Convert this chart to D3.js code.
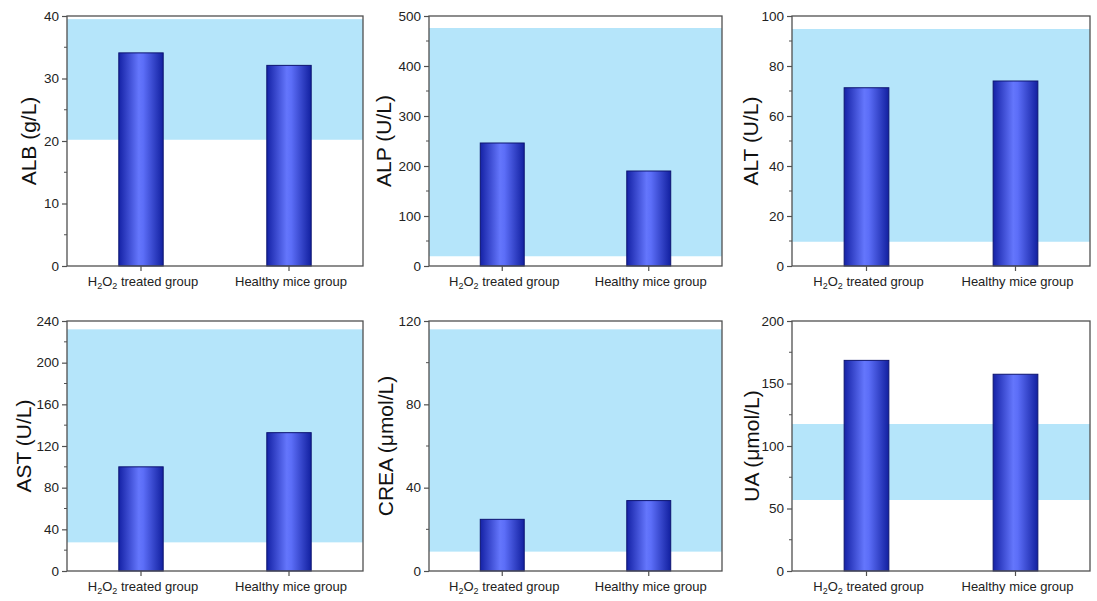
<!DOCTYPE html>
<html>
<head>
<meta charset="utf-8">
<script src="https://cdn.jsdelivr.net/npm/d3@7"></script>
<style>
  body { margin: 0; background: #fff; }
  svg { display: block; font-family: "Liberation Sans", Arial, sans-serif; }
</style>
</head>
<body>
<div id="chart"></div>
<script>
// data
const groups = ["H2O2 treated group", "Healthy mice group"];
const panelNames = ["ALB", "ALP", "ALT", "AST", "CREA", "UA"];
const yLabels = ["ALB (g/L)", "ALP (U/L)", "ALT (U/L)", "AST (U/L)", "CREA (\u03bcmol/L)", "UA (\u03bcmol/L)"];
const yMax = [40, 500, 100, 240, 120, 200];
const yTickStep = [10, 100, 20, 40, 40, 50];
const treatedValues = [34.1, 246, 71.3, 100, 24.8, 168.5];
const healthyValues = [32.1, 190, 74, 132.8, 33.8, 157.4];
const rangeLow = [20.2, 19.5, 9.7, 27.5, 9.3, 56.8];
const rangeHigh = [39.5, 476, 94.8, 232, 116, 117.6];

// layout
const W = 1097, H = 601;
const colLeft = [67, 429, 792];
const colWidth = [296, 293, 298];
const rowTop = [16, 321];
const plotH = 250;
const labelBaseline = [31, 38, 34, 36, 36, 33];

const svg = d3.select("#chart").append("svg")
  .attr("width", W)
  .attr("height", H);

const defs = svg.append("defs");
const grad = defs.append("linearGradient")
  .attr("id", "barGrad")
  .attr("x1", "0%").attr("x2", "100%").attr("y1", "0%").attr("y2", "0%");
grad.append("stop").attr("offset", "0%").attr("stop-color", "#1522a6");
grad.append("stop").attr("offset", "45%").attr("stop-color", "#6476fc");
grad.append("stop").attr("offset", "55%").attr("stop-color", "#5c6ef8");
grad.append("stop").attr("offset", "100%").attr("stop-color", "#1220a0");

panelNames.forEach((name, i) => {
  const left = colLeft[i % 3];
  const top = rowTop[Math.floor(i / 3)];
  const w = colWidth[i % 3];

  const g = svg.append("g").attr("transform", `translate(${left},${top})`);

  const x = d3.scaleBand().domain(groups).range([0, w]);
  const y = d3.scaleLinear().domain([0, yMax[i]]).range([plotH, 0]);

  // reference range band
  g.append("rect")
    .attr("x", 0)
    .attr("width", w)
    .attr("y", y(rangeHigh[i]))
    .attr("height", y(rangeLow[i]) - y(rangeHigh[i]))
    .attr("fill", "#b5e5fa");

  // bars
  const vals = [treatedValues[i], healthyValues[i]];
  const barW = x.bandwidth() * 0.3;
  g.selectAll("rect.bar")
    .data(groups)
    .enter()
    .append("rect")
    .attr("class", "bar")
    .attr("x", (d) => x(d) + x.bandwidth() / 2 - barW / 2)
    .attr("width", barW)
    .attr("y", (d, j) => y(vals[j]))
    .attr("height", (d, j) => plotH - y(vals[j]))
    .attr("fill", "url(#barGrad)")
    .attr("stroke", "#0d1470")
    .attr("stroke-width", 1);

  // frame
  g.append("rect")
    .attr("x", 0).attr("y", 0)
    .attr("width", w).attr("height", plotH)
    .attr("fill", "none")
    .attr("stroke", "#505050")
    .attr("stroke-width", 1.3);

  // y axis, major + minor ticks
  const majors = d3.range(0, yMax[i] + 0.001, yTickStep[i]);
  const minors = d3.range(yTickStep[i] / 2, yMax[i], yTickStep[i]);
  const yAxis = d3.axisLeft(y)
    .tickValues(majors)
    .tickSize(5)
    .tickSizeOuter(0)
    .tickPadding(3)
    .tickFormat(d3.format("d"));
  const ya = g.append("g").call(yAxis);
  ya.select(".domain").remove();
  ya.selectAll("line").attr("stroke", "#505050").attr("stroke-width", 1.2);
  ya.selectAll("text")
    .attr("font-size", 13.5)
    .attr("fill", "#222")
    .attr("font-family", "Liberation Sans, Arial, sans-serif");

  g.selectAll("line.minor")
    .data(minors)
    .enter()
    .append("line")
    .attr("class", "minor")
    .attr("x1", -3).attr("x2", 0)
    .attr("y1", (d) => y(d)).attr("y2", (d) => y(d))
    .attr("stroke", "#505050")
    .attr("stroke-width", 1);

  // x axis
  const xa = g.append("g")
    .attr("transform", `translate(0,${plotH})`)
    .call(d3.axisBottom(x).tickSize(5).tickSizeOuter(0).tickFormat(""));
  xa.select(".domain").remove();
  xa.selectAll("line").attr("stroke", "#505050").attr("stroke-width", 1.2);

  xa.selectAll("g.tick").each(function (d) {
    const t = d3.select(this).append("text")
      .attr("x", 2)
      .attr("y", 20)
      .attr("text-anchor", "middle")
      .attr("font-size", 13)
      .attr("fill", "#222")
      .attr("font-family", "Liberation Sans, Arial, sans-serif");
    if (d.startsWith("H2O2")) {
      t.append("tspan").text("H");
      t.append("tspan").text("2").attr("font-size", 9).attr("dy", 3);
      t.append("tspan").text("O").attr("dy", -3);
      t.append("tspan").text("2").attr("font-size", 9).attr("dy", 3);
      t.append("tspan").text(" treated group").attr("dy", -3);
    } else {
      t.text(d);
    }
  });

  // y label, positioned by its baseline
  g.append("text")
    .attr("transform", `translate(${-labelBaseline[i]},${plotH / 2}) rotate(-90)`)
    .attr("text-anchor", "middle")
    .attr("font-size", 21)
    .attr("fill", "#111")
    .text(yLabels[i]);
});
</script>
</body>
</html>
